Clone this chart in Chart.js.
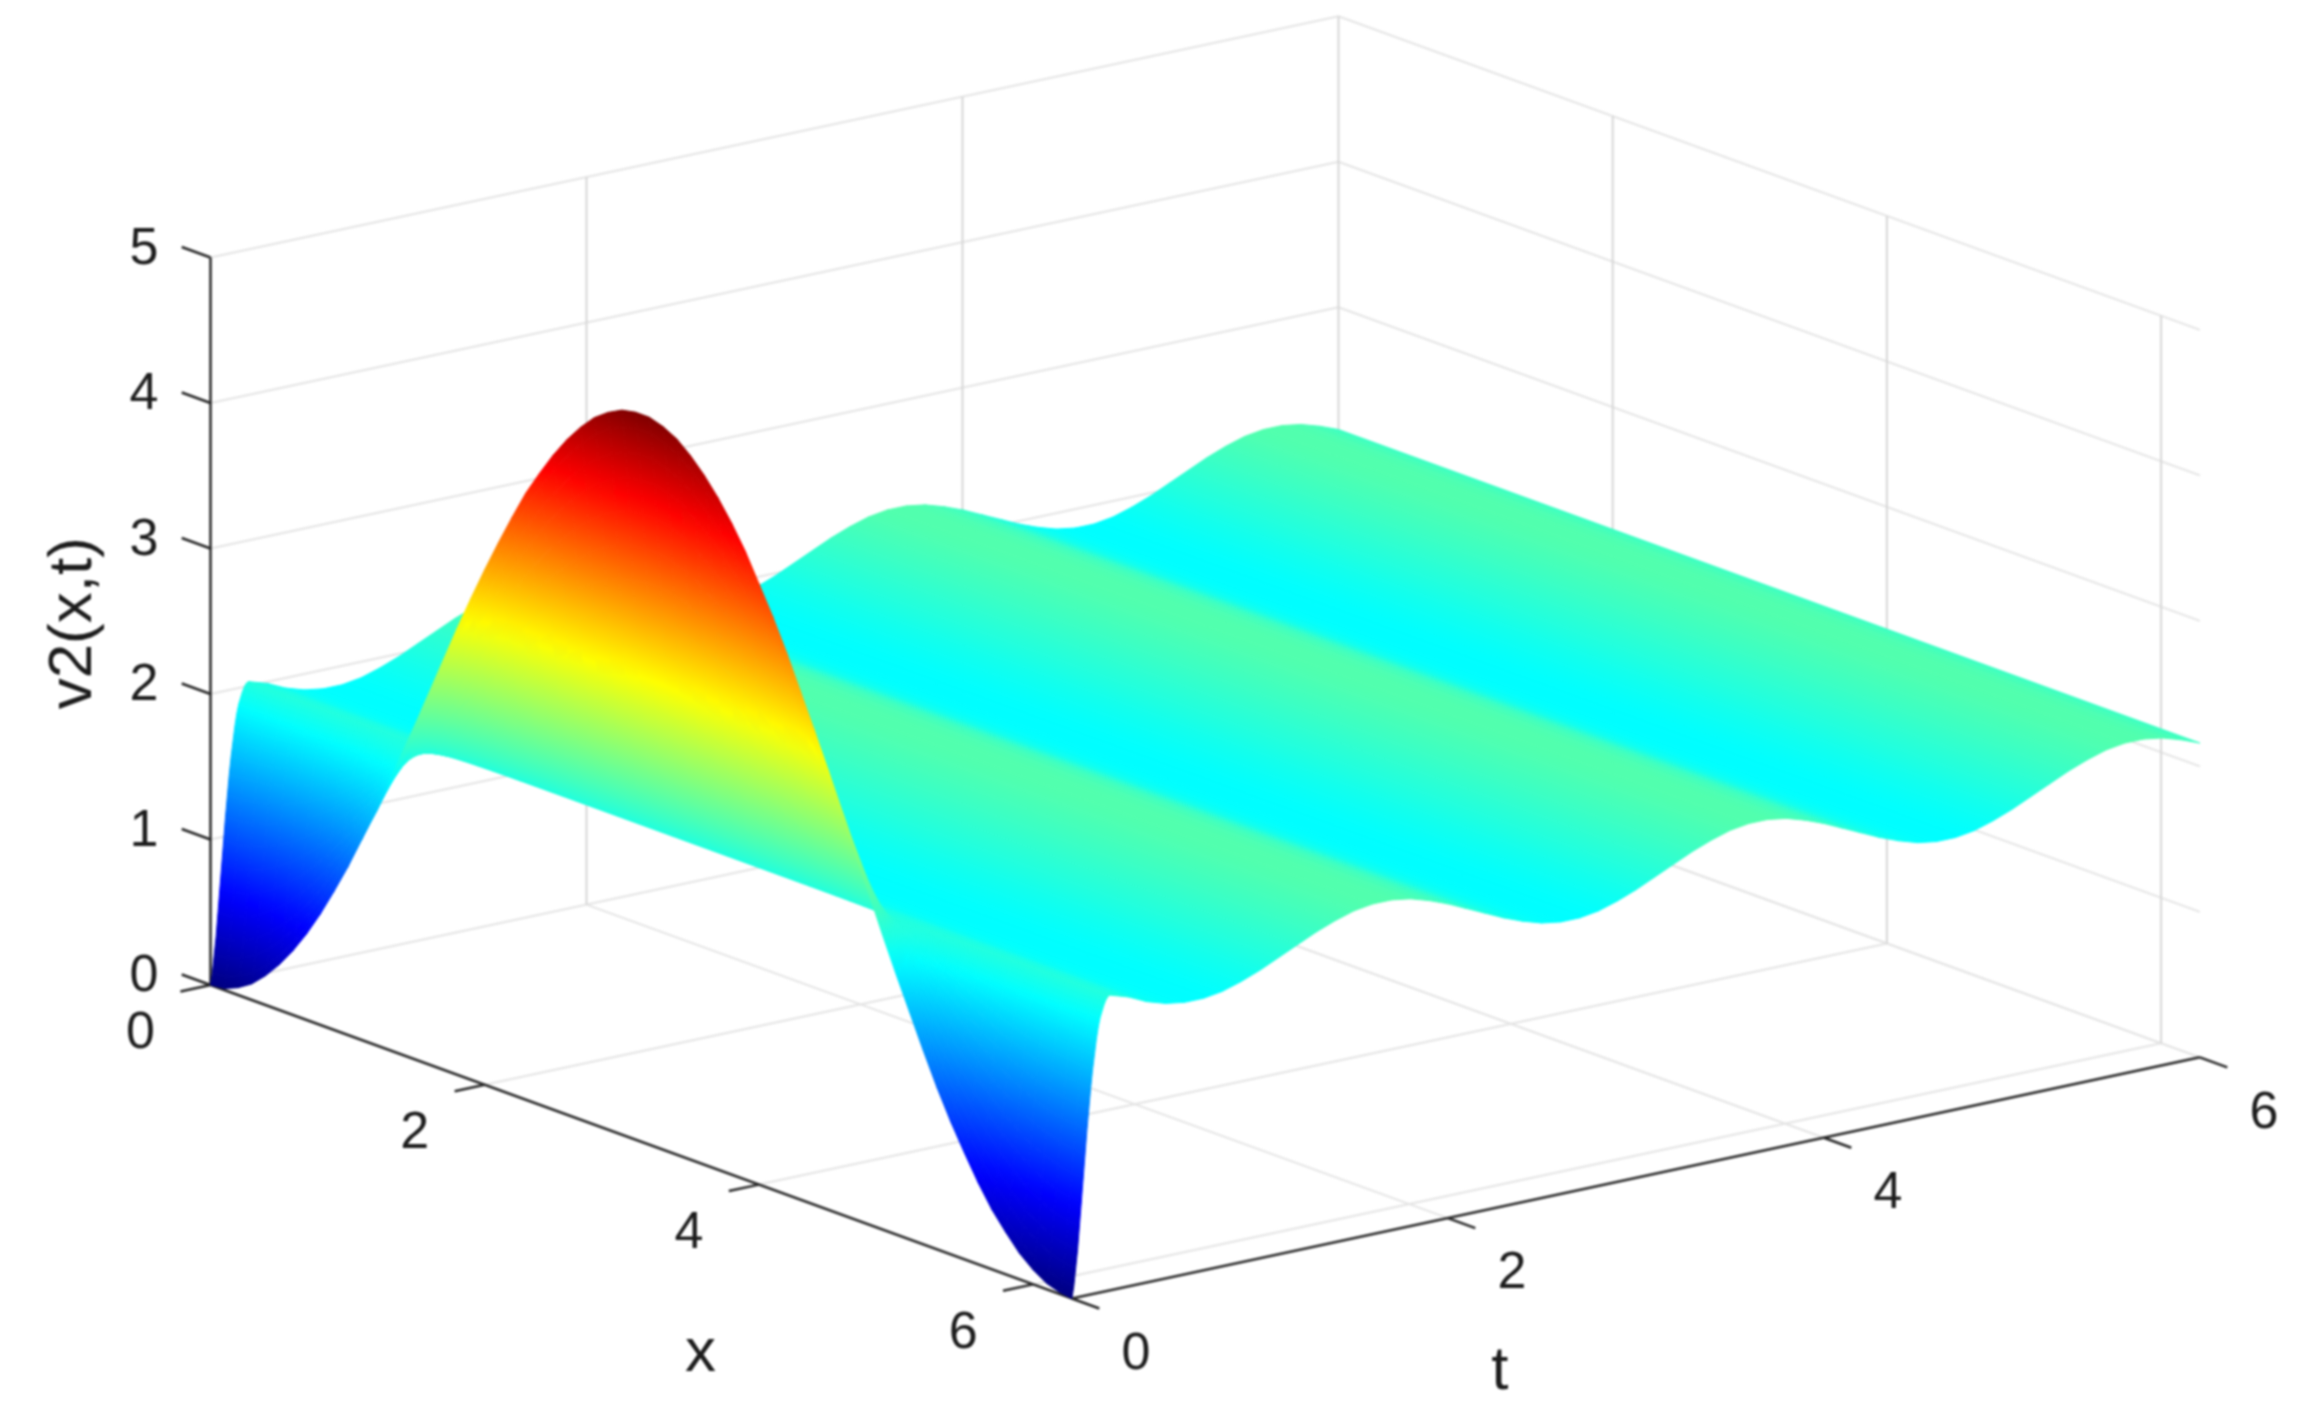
<!DOCTYPE html>
<html>
<head>
<meta charset="utf-8">
<title>v2(x,t)</title>
<script src="https://cdn.jsdelivr.net/npm/chart.js@4"></script>
<style>
  html, body { margin: 0; padding: 0; background: #fff; }
  canvas { display: block; filter: blur(0.8px); }
</style>
</head>
<body>
<canvas id="surfaceChart" width="2297" height="1409"></canvas>
<script>
// values
const xValues = [0,.1,.2,.3,.4,.5,.6,.7,.8,.9,1,1.1,1.2,1.3,1.4,1.5,1.6,1.7,1.8,1.9,2,2.1,2.2,2.3,2.4,2.5,2.6,2.7,2.8,2.9,3,3.1,3.2,3.3,3.4,3.5,3.6,3.7,3.8,3.9,4,4.1,4.2,4.3,4.4,4.5,4.6,4.7,4.8,4.9,5,5.1,5.2,5.3,5.4,5.5,5.6,5.7,5.8,5.9,6,6.1,6.2,6.283];
// v2 along the t=0 edge
const startValues = [0,.01,.05,.11,.2,.31,.44,.59,.76,.95,1.15,1.37,1.59,1.83,2.08,2.32,2.57,2.82,3.07,3.31,3.54,3.76,3.97,4.17,4.34,4.5,4.64,4.76,4.86,4.93,4.98,5,5,4.97,4.92,4.84,4.74,4.62,4.48,4.32,4.13,3.94,3.73,3.5,3.27,3.03,2.78,2.53,2.28,2.03,1.79,1.56,1.33,1.11,.91,.73,.56,.41,.29,.18,.1,.04,.01,0];
// the short climb/drop right after t=0: share of the start edge left in the surface
const rampTimes = [0,.01,.02,.03,.04,.05,.06,.07,.08,.09,.1,.11,.12,.13,.14,.15,.16,.17,.18,.19];
const rampShare = [1,.96,.9,.84,.76,.68,.6,.52,.44,.37,.3,.24,.19,.14,.1,.07,.05,.03,.015,.005];
// ridges, the same for every x once past the ramp
const ridgeTimes = [.2,.3,.4,.5,.6,.7,.8,.9,1,1.1,1.2,1.3,1.4,1.5,1.6,1.7,1.8,1.9,2,2.1,2.2,2.3,2.4,2.5,2.6,2.7,2.8,2.9,3,3.1,3.2,3.3,3.4,3.5,3.6,3.7,3.8,3.9,4,4.1,4.2,4.3,4.4,4.5,4.6,4.7,4.8,4.9,5,5.1,5.2,5.3,5.4,5.5,5.6,5.7,5.8,5.9,6];
const ridgeValues = [2.03,1.99,1.93,1.89,1.87,1.87,1.89,1.93,1.98,2.04,2.1,2.16,2.21,2.25,2.27,2.27,2.25,2.21,2.16,2.1,2.04,1.98,1.93,1.89,1.87,1.87,1.89,1.93,1.98,2.04,2.1,2.16,2.21,2.25,2.27,2.27,2.25,2.21,2.16,2.1,2.04,1.98,1.93,1.89,1.87,1.87,1.89,1.93,1.98,2.04,2.1,2.16,2.21,2.25,2.27,2.27,2.25,2.21,2.16];

const xTicks = [0, 2, 4, 6];
const tTicks = [0, 2, 4, 6];
const zTicks = [0, 1, 2, 3, 4, 5];
const xMax = 6.283, tMax = 6, zMax = 5;

// axonometric view of the box on the page
const origin = { x: 210.5, y: 985 };
const xDir = { x: 137.1, y: 49.9 };
const tDir = { x: 188, y: -40.2 };
const zDir = { x: 0, y: -145.5 };

function project(x, t, z) {
    return {
        x: origin.x + x * xDir.x + t * tDir.x + z * zDir.x,
        y: origin.y + x * xDir.y + t * tDir.y + z * zDir.y
    };
}

// jet colormap, 0..5
const jetStops = [[0, 0, 0, 128], [.125, 0, 0, 255], [.375, 0, 255, 255], [.625, 255, 255, 0], [.875, 255, 0, 0], [1, 128, 0, 0]];
function jet(v) {
    const s = Math.min(1, Math.max(0, v / zMax));
    for (let i = 1; i < jetStops.length; i++) {
        if (s <= jetStops[i][0]) {
            const a = jetStops[i - 1], b = jetStops[i];
            const f = (s - a[0]) / (b[0] - a[0]);
            return `rgb(${Math.round(a[1] + f * (b[1] - a[1]))},${Math.round(a[2] + f * (b[2] - a[2]))},${Math.round(a[3] + f * (b[3] - a[3]))})`;
        }
    }
    return 'rgb(128,0,0)';
}

const canvas = document.getElementById('surfaceChart');
const ctx = canvas.getContext('2d');

// colour follows the value linearly across the cell
function cellPaint(p0, v0, p1, v1, p2, v2, p3, v3) {
    const lo = Math.min(v0, v1, v2, v3), hi = Math.max(v0, v1, v2, v3);
    const mid = jet((lo + hi) / 2);
    const ax = p1.x - p0.x, ay = p1.y - p0.y, bx = p2.x - p0.x, by = p2.y - p0.y;
    const det = ax * by - ay * bx;
    if (hi - lo < 1e-4 || Math.abs(det) < 1e-3) return mid;
    const d1 = v1 - v0, d2 = v2 - v0;
    const gx = (d1 * by - d2 * ay) / det, gy = (ax * d2 - bx * d1) / det;
    const len2 = gx * gx + gy * gy;
    if (len2 < 1e-10) return mid;
    const grad = ctx.createLinearGradient(
        p0.x + gx * (lo - v0) / len2, p0.y + gy * (lo - v0) / len2,
        p0.x + gx * (hi - v0) / len2, p0.y + gy * (hi - v0) / len2);
    grad.addColorStop(0, jet(lo));
    grad.addColorStop(.5, mid);
    grad.addColorStop(1, jet(hi));
    return grad;
}

function lineSet(points, color, width) {
    return { data: points, showLine: true, fill: false, borderColor: color, borderWidth: width, pointRadius: 0 };
}

function cellSet(x0, x1, t0, t1, v00, v10, v01, v11) {
    const a = project(x0, t0, v00), b = project(x1, t0, v10), c = project(x1, t1, v11), d = project(x0, t1, v01);
    const paint = cellPaint(a, v00, b, v10, d, v01, c, v11);
    return {
        data: [a, b, c, d, a], showLine: true, fill: 'shape',
        backgroundColor: paint, borderColor: paint, borderWidth: 1, borderJoinStyle: 'round', pointRadius: 0
    };
}

// listed back to front, reversed below because Chart.js paints the last dataset first
const layers = [];
const gridColor = '#e4e4e4', uprightColor = '#d6d6d6', axisColor = '#262626';

// back walls and floor
zTicks.forEach(z => {
    layers.push(lineSet([project(0, 0, z), project(0, tMax, z), project(xMax, tMax, z)], gridColor, 2));
});
tTicks.filter(t => t > 0).forEach(t => {
    layers.push(lineSet([project(xMax, t, 0), project(0, t, 0)], gridColor, 2));
    layers.push(lineSet([project(0, t, 0), project(0, t, zMax)], uprightColor, 2));
});
xTicks.filter(x => x > 0).forEach(x => {
    layers.push(lineSet([project(x, 0, 0), project(x, tMax, 0)], gridColor, 2));
    layers.push(lineSet([project(x, tMax, 0), project(x, tMax, zMax)], uprightColor, 2));
});

// axes and tick marks
layers.push(lineSet([project(0, 0, 0), project(0, 0, zMax)], axisColor, 2.5));
layers.push(lineSet([project(0, 0, 0), project(xMax, 0, 0), project(xMax, tMax, 0)], axisColor, 2.5));
zTicks.forEach(z => layers.push(lineSet([project(0, 0, z), project(-.21, 0, z)], axisColor, 2.5)));
xTicks.forEach(x => layers.push(lineSet([project(x, 0, 0), project(x, -.16, 0)], axisColor, 2.5)));
tTicks.forEach(t => layers.push(lineSet([project(xMax, t, 0), project(xMax + .2, t, 0)], axisColor, 2.5)));

// surface: far ridges first, flat in x so one strip per step
for (let j = ridgeTimes.length - 2; j >= 0; j--) {
    layers.push(cellSet(0, xMax, ridgeTimes[j], ridgeTimes[j + 1], ridgeValues[j], ridgeValues[j], ridgeValues[j + 1], ridgeValues[j + 1]));
}
// then the ramp at the t=0 edge
function rampValue(i, j) {
    if (j >= rampTimes.length) return ridgeValues[0];
    return rampShare[j] * startValues[i] + (1 - rampShare[j]) * ridgeValues[0];
}
for (let j = rampTimes.length - 1; j >= 0; j--) {
    const t0 = rampTimes[j];
    const t1 = j + 1 < rampTimes.length ? rampTimes[j + 1] : ridgeTimes[0];
    for (let i = 0; i < xValues.length - 1; i++) {
        layers.push(cellSet(xValues[i], xValues[i + 1], t0, t1,
            rampValue(i, j), rampValue(i + 1, j), rampValue(i, j + 1), rampValue(i + 1, j + 1)));
    }
}

// tick labels and axis titles
const axisText = {
    id: 'axisText',
    afterDatasetsDraw(chart) {
        const { ctx, scales } = chart;
        function put(text, pos, dx, dy, size, angle) {
            ctx.save();
            ctx.translate(scales.x.getPixelForValue(pos.x) + dx, scales.y.getPixelForValue(pos.y) + dy);
            if (angle) ctx.rotate(angle);
            ctx.font = `${size}px "Liberation Sans"`;
            ctx.fillStyle = '#1c1c1c';
            ctx.textAlign = 'center';
            ctx.textBaseline = 'middle';
            ctx.fillText(text, 0, 0);
            ctx.restore();
        }
        zTicks.forEach(z => put(String(z), project(0, 0, z), -66.5, -8, 52));
        xTicks.forEach(x => put(String(x), project(x, 0, 0), -70, 49, 52));
        tTicks.forEach(t => put(String(t), project(xMax, t, 0), 64, 56, 52));
        put('v2(x,t)', project(0, 0, 2.5), -137, 2, 62, -Math.PI / 2);
        put('x', project(3.1, 0, 0), 65, 214, 62);
        put('t', project(xMax, 3, 0), -136, 194, 62);
    }
};

new Chart(ctx, {
    type: 'scatter',
    data: { datasets: layers.reverse() },
    options: {
        responsive: false,
        animation: false,
        events: [],
        parsing: false,
        normalized: true,
        layout: { padding: 0 },
        plugins: { legend: { display: false }, tooltip: { enabled: false } },
        scales: {
            x: { type: 'linear', min: 0, max: 2297, display: false },
            y: { type: 'linear', min: 0, max: 1409, reverse: true, display: false }
        }
    },
    plugins: [axisText]
});
</script>
</body>
</html>
